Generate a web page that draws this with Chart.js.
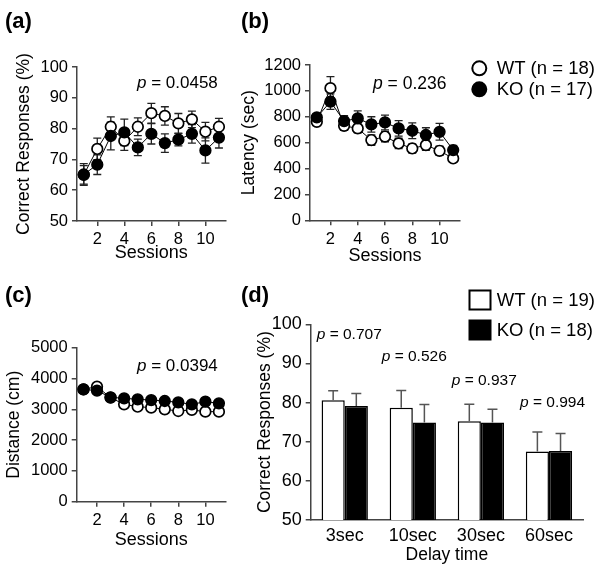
<!DOCTYPE html>
<html>
<head>
<meta charset="utf-8">
<script src="https://cdn.jsdelivr.net/npm/chart.js@4/dist/chart.umd.min.js"></script>
<style>
html,body{margin:0;padding:0;background:#fff;}
#wrap{position:relative;width:600px;height:571px;overflow:hidden;background:#fff;}
#wrap canvas{position:absolute;left:0;top:0;}
</style>
</head>
<body>
<div id="wrap">
<canvas id="ca" width="600" height="571"></canvas>
<canvas id="cb" width="600" height="571"></canvas>
<canvas id="cc" width="600" height="571"></canvas>
<canvas id="cd" width="600" height="571"></canvas>
</div>
<script>
// ---------- data ----------
const sessions = [1,2,3,4,5,6,7,8,9,10,11];
const sessionTicks = [2,4,6,8,10];

const wtCorrect    = [65.0,73.4,80.6,76.0,80.6,85.0,84.1,81.7,83.0,79.0,80.6];
const wtCorrectErr = [3.0,3.5,3.2,3.1,2.9,3.2,3.0,3.2,2.7,3.0,2.7];
const koCorrect    = [65.1,68.3,77.6,78.8,73.9,78.3,75.3,76.4,78.3,72.9,77.1];
const koCorrectErr = [3.5,3.2,4.5,4.3,2.7,3.3,3.0,2.0,3.0,4.1,3.4];

const wtLatency    = [761,1021,730,710,620,647,594,555,581,537,478];
const wtLatencyErr = [25,89,35,35,40,40,40,35,40,35,25];
const koLatency    = [795,917,767,787,741,756,710,692,659,684,543];
const koLatencyErr = [30,60,41,59,59,57,60,61,56,65,35];

const wtDistance = [3649,3734,3380,3161,3085,3053,2999,2945,2980,2923,2923];
const koDistance = [3650,3604,3389,3357,3324,3301,3269,3226,3161,3248,3194];

const delayLabels = ['3sec','10sec','30sec','60sec'];
const wtDelay    = [80.6,78.7,75.2,67.5];
const wtDelayErr = [2.4,4.4,4.4,5.0];
const koDelay    = [79.1,74.9,74.9,67.6];
const koDelayErr = [3.2,4.6,3.4,4.5];

const pCorrect = '0.0458';
const pLatency = '0.236';
const pDistance = '0.0394';
const pDelay = ['0.707','0.526','0.937','0.994'];

const wtLabelSessions = 'WT (n = 18)';
const koLabelSessions = 'KO (n = 17)';
const wtLabelDelay = 'WT (n = 19)';
const koLabelDelay = 'KO (n = 18)';

// ---------- style ----------
const FONT = "'Liberation Sans', Arial, Helvetica, sans-serif";
const AX = '#444';
const TICK = 16.5;
const TITLE = 17.5;
const PSIZE = 17;

function drawP(ctx, x, y, val, size) {
  ctx.save();
  ctx.fillStyle = '#000';
  ctx.textBaseline = 'middle';
  ctx.textAlign = 'left';
  ctx.font = 'italic ' + size + 'px ' + FONT;
  ctx.fillText('p', x, y);
  const w = ctx.measureText('p').width;
  ctx.font = size + 'px ' + FONT;
  ctx.fillText(' = ' + val, x + w, y);
  ctx.restore();
}

const errorBarPlugin = {
  id: 'errorBars',
  beforeDatasetsDraw(chart) { drawErr(chart, false); },
  afterDatasetsDraw(chart) { drawErr(chart, true); }
};
function drawErr(chart, after) {
  const o = chart.options.plugins.errorBars;
  if (!o || !!o.after !== after) return;
  const ctx = chart.ctx, ys = chart.scales.y;
  ctx.save();
  ctx.strokeStyle = o.color;
  ctx.lineWidth = o.width;
  chart.data.datasets.forEach((ds, i) => {
    if (!ds.errors) return;
    const meta = chart.getDatasetMeta(i);
    meta.data.forEach((el, j) => {
      const raw = ds.data[j];
      const v = (typeof raw === 'object') ? raw.y : raw;
      const e = ds.errors[j];
      const yTop = ys.getPixelForValue(v + e);
      const yBot = o.upperOnly ? el.y : ys.getPixelForValue(v - e);
      const x = el.x, c = o.cap;
      ctx.beginPath();
      ctx.moveTo(x, yBot); ctx.lineTo(x, yTop);
      ctx.moveTo(x - c, yTop); ctx.lineTo(x + c, yTop);
      if (!o.upperOnly) { ctx.moveTo(x - c, yBot); ctx.lineTo(x + c, yBot); }
      ctx.stroke();
    });
  });
  ctx.restore();
}

const annotPlugin = {
  id: 'annot',
  afterDraw(chart) {
    const o = chart.options.plugins.annot;
    if (!o) return;
    const ctx = chart.ctx;
    ctx.save();
    if (o.panel) {
      ctx.fillStyle = '#000';
      ctx.textBaseline = 'middle';
      ctx.textAlign = 'left';
      ctx.font = 'bold 22px ' + FONT;
      ctx.fillText(o.panel.text, o.panel.x, o.panel.y);
    }
    (o.pTexts || []).forEach(p => drawP(ctx, p.x, p.y, p.val, p.size || PSIZE));
    if (o.legend) {
      const L = o.legend;
      chart.data.datasets.forEach((ds, i) => {
        const cy = L.y + i * L.gap;
        ctx.lineWidth = 2;
        ctx.strokeStyle = '#000';
        ctx.fillStyle = ds.pointBackgroundColor || ds.backgroundColor;
        if (L.shape === 'circle') {
          ctx.beginPath();
          ctx.arc(L.x, cy, L.r, 0, Math.PI * 2);
          ctx.fill(); ctx.stroke();
        } else {
          ctx.fillRect(L.x - L.w / 2, cy - L.h / 2, L.w, L.h);
          ctx.strokeRect(L.x - L.w / 2, cy - L.h / 2, L.w, L.h);
        }
        ctx.fillStyle = '#000';
        ctx.font = L.size + 'px ' + FONT;
        ctx.textBaseline = 'middle';
        ctx.textAlign = 'left';
        ctx.fillText(ds.label, L.tx, cy + 1);
      });
    }
    ctx.restore();
  }
};

function yScale(o) {
  return {
    min: o.min, max: o.max,
    afterFit: s => { s.width = o.yW; },
    ticks: { stepSize: o.step, color: '#000', font: { family: FONT, size: o.tick || TICK }, padding: 4,
             callback: v => String(v) },
    grid: { display: true, drawOnChartArea: false, drawTicks: true, tickLength: 5, color: AX, lineWidth: 1.5 },
    border: { display: true, color: AX, width: 1.5 },
    title: { display: true, text: o.title, color: '#000', font: { family: FONT, size: TITLE }, padding: { top: 0, bottom: 0 } }
  };
}

function lineChart(id, o) {
  return new Chart(document.getElementById(id), {
    type: 'line',
    data: {
      datasets: [
        { label: wtLabelSessions, data: sessions.map((s, i) => ({ x: s, y: o.wt[i] })), errors: o.wtErr, order: 1,
          borderColor: '#000', borderWidth: 1, backgroundColor: '#fff', pointBackgroundColor: '#fff',
          pointBorderColor: '#000', pointBorderWidth: 1.7, pointRadius: 5.3, tension: 0 },
        { label: koLabelSessions, data: sessions.map((s, i) => ({ x: s, y: o.ko[i] })), errors: o.koErr, order: 0,
          borderColor: '#000', borderWidth: 1, backgroundColor: '#000', pointBackgroundColor: '#000',
          pointBorderColor: '#000', pointBorderWidth: 1.7, pointRadius: 5.3, tension: 0 }
      ]
    },
    options: {
      responsive: false, animation: false, events: [],
      layout: { padding: { left: o.area.left - o.yW, top: o.area.top, right: 600 - o.area.right, bottom: 571 - o.area.bottom - o.xH } },
      scales: {
        x: {
          type: 'linear', min: 0.5, max: 11.5,
          afterBuildTicks: s => { s.ticks = sessionTicks.map(v => ({ value: v })); },
          afterFit: s => { s.height = o.xH; },
          ticks: { color: '#000', font: { family: FONT, size: TICK }, padding: 4, maxRotation: 0, autoSkip: false },
          grid: { display: true, drawOnChartArea: false, drawTicks: true, tickLength: 5, color: AX, lineWidth: 1.5 },
          border: { display: true, color: AX, width: 1.5 },
          title: { display: true, text: 'Sessions', color: '#000', font: { family: FONT, size: 18 }, padding: { top: 0, bottom: 0 } }
        },
        y: yScale(o)
      },
      plugins: {
        legend: { display: false }, tooltip: { enabled: false },
        errorBars: o.errors ? { color: '#222', width: 1.3, cap: 4, upperOnly: false, after: false } : null,
        annot: o.annot
      }
    },
    plugins: [errorBarPlugin, annotPlugin]
  });
}

// (a)
lineChart('ca', {
  wt: wtCorrect, wtErr: wtCorrectErr, ko: koCorrect, koErr: koCorrectErr, errors: true,
  min: 50, max: 100, step: 10, title: 'Correct Responses (%)',
  area: { left: 77, top: 67, right: 225.7, bottom: 221 }, yW: 63, xH: 43,
  annot: { panel: { text: '(a)', x: 5, y: 21.5 }, pTexts: [{ val: pCorrect, x: 137, y: 83 }] }
});

// (b)
lineChart('cb', {
  wt: wtLatency, wtErr: wtLatencyErr, ko: koLatency, koErr: koLatencyErr, errors: true,
  min: 0, max: 1200, step: 200, title: 'Latency (sec)',
  area: { left: 310, top: 65, right: 460, bottom: 220.3 }, yW: 71, xH: 47,
  annot: { panel: { text: '(b)', x: 241, y: 21.5 }, pTexts: [{ val: pLatency, x: 373, y: 84, size: 17.5 }],
           legend: { shape: 'circle', x: 479.3, y: 68.3, gap: 21, r: 7, tx: 496.7, size: 18.5 } }
});

// (c)
lineChart('cc', {
  wt: wtDistance, ko: koDistance, errors: false,
  min: 0, max: 5000, step: 1000, title: 'Distance (cm)',
  area: { left: 76.7, top: 347.7, right: 225.7, bottom: 501.7 }, yW: 73, xH: 49,
  annot: { panel: { text: '(c)', x: 5, y: 296 }, pTexts: [{ val: pDistance, x: 137, y: 366 }] }
});

// (d)
const dArea = { left: 310.7, top: 324.3, right: 583, bottom: 520 };
const dYW = 56, dXH = 46;
new Chart(document.getElementById('cd'), {
  type: 'bar',
  data: {
    labels: delayLabels,
    datasets: [
      { label: wtLabelDelay, data: wtDelay, errors: wtDelayErr, backgroundColor: '#fff', borderColor: '#000', borderWidth: 1.5,
        categoryPercentage: 0.68, barPercentage: 1.0 },
      { label: koLabelDelay, data: koDelay, errors: koDelayErr, backgroundColor: '#000', borderColor: '#000', borderWidth: 1.5,
        categoryPercentage: 0.68, barPercentage: 1.0 }
    ]
  },
  options: {
    responsive: false, animation: false, events: [],
    layout: { padding: { left: dArea.left - dYW, top: dArea.top, right: 600 - dArea.right, bottom: 571 - dArea.bottom - dXH } },
    scales: {
      x: {
        afterFit: s => { s.height = dXH; },
        ticks: { color: '#000', font: { family: FONT, size: 18 }, padding: 5, maxRotation: 0 },
        grid: { display: false, drawTicks: false },
        border: { display: true, color: AX, width: 1.5 },
        title: { display: true, text: 'Delay time', color: '#000', font: { family: FONT, size: 17.5 }, padding: { top: 0, bottom: 0 } }
      },
      y: yScale({ min: 50, max: 100, step: 10, yW: dYW, tick: 18, title: 'Correct Responses (%)' })
    },
    plugins: {
      legend: { display: false }, tooltip: { enabled: false },
      errorBars: { color: '#555', width: 1.5, cap: 5, upperOnly: true, after: true },
      annot: {
        panel: { text: '(d)', x: 241, y: 296 },
        pTexts: [
          { val: pDelay[0], x: 316.7, y: 335, size: 15.5 },
          { val: pDelay[1], x: 381.7, y: 357, size: 15.5 },
          { val: pDelay[2], x: 451.7, y: 381, size: 15.5 },
          { val: pDelay[3], x: 520, y: 402.5, size: 15.5 }
        ],
        legend: { shape: 'square', x: 480, y: 300, gap: 30, w: 21, h: 19, tx: 496.7, size: 18.5 }
      }
    }
  },
  plugins: [errorBarPlugin, annotPlugin]
});
</script>
</body>
</html>
